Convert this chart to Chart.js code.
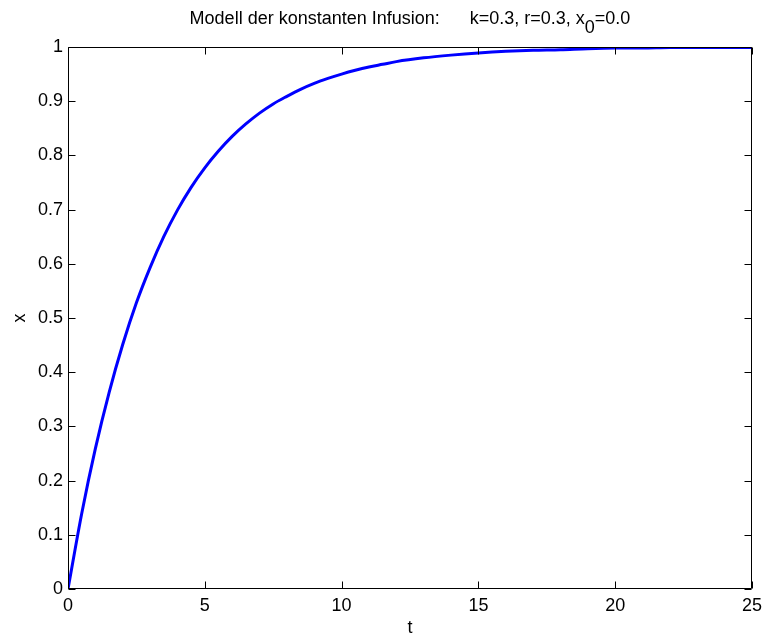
<!DOCTYPE html>
<html><head><meta charset="utf-8">
<script src="https://cdn.jsdelivr.net/npm/chart.js@4/dist/chart.umd.min.js"></script>
<style>html,body{margin:0;padding:0;background:#fff}#c{display:block}</style>
</head><body>
<canvas id="c" width="768" height="634"></canvas>
<script>
// Data
const tValues = [0, 0.5, 1, 1.5, 2, 2.5, 3, 3.5, 4, 4.5, 5, 5.5, 6, 6.5, 7, 7.5, 8, 8.5, 9, 9.5, 10, 10.5, 11, 11.5, 12, 13, 14, 15, 16, 17, 18, 19, 20, 21, 22, 23, 24, 25];
const xValues = [0, 0.139, 0.259, 0.362, 0.451, 0.528, 0.593, 0.650, 0.699, 0.741, 0.777, 0.808, 0.835, 0.858, 0.878, 0.895, 0.909, 0.922, 0.933, 0.942, 0.950, 0.957, 0.963, 0.968, 0.973, 0.980, 0.985, 0.989, 0.992, 0.994, 0.995, 0.997, 0.998, 0.998, 0.999, 0.999, 0.999, 0.999];
const xTickValues = [0, 5, 10, 15, 20, 25];
const yTickValues = [0, 0.1, 0.2, 0.3, 0.4, 0.5, 0.6, 0.7, 0.8, 0.9, 1];
const titleMain = 'Modell der konstanten Infusion:      k=0.3, r=0.3, x';
const titleSub = '0';
const titleEnd = '=0.0';
const xAxisLabel = 't';
const yAxisLabel = 'x';

const FONT = '"Liberation Sans", Arial, sans-serif';
const tickFont = {family: FONT, size: 18};

const boxPlugin = {
  id: 'box',
  afterDraw(chart) {
    const ctx = chart.ctx, a = chart.chartArea;
    const xs = chart.scales.x, ys = chart.scales.y;
    const L = Math.round(a.left) + 0.5, R = Math.round(a.right) - 0.5;
    const T = Math.round(a.top) + 0.5, B = Math.round(a.bottom) - 0.5;
    ctx.save();
    ctx.strokeStyle = '#000';
    ctx.lineWidth = 1;
    ctx.beginPath();
    ctx.rect(L, T, R - L, B - T);
    const tl = 7;
    xTickValues.forEach(v => {
      const px = Math.round(xs.getPixelForValue(v)) + 0.5;
      ctx.moveTo(px, B); ctx.lineTo(px, B - tl);
      ctx.moveTo(px, T); ctx.lineTo(px, T + tl);
    });
    yTickValues.forEach(v => {
      const py = Math.round(ys.getPixelForValue(v)) + 0.5;
      ctx.moveTo(L, py); ctx.lineTo(L + tl, py);
      ctx.moveTo(R, py); ctx.lineTo(R - tl, py);
    });
    ctx.stroke();
    // title with subscript
    const f = '18px ' + FONT;
    ctx.fillStyle = '#000';
    ctx.font = f;
    ctx.textBaseline = 'alphabetic';
    ctx.textAlign = 'left';
    const w1 = ctx.measureText(titleMain).width;
    const w2 = ctx.measureText(titleSub).width;
    const w3 = ctx.measureText(titleEnd).width;
    const total = w1 + w2 + w3;
    const cx = (a.left + a.right) / 2;
    const x0 = cx - total / 2;
    const base = 24;
    ctx.fillText(titleMain, x0, base);
    ctx.fillText(titleSub, x0 + w1, base + 9);
    ctx.fillText(titleEnd, x0 + w1 + w2, base);
    // axis labels
    ctx.textAlign = 'center';
    ctx.textBaseline = 'middle';
    ctx.fillText(xAxisLabel, cx, 628);
    ctx.save();
    ctx.translate(20, (a.top + a.bottom) / 2);
    ctx.rotate(-Math.PI / 2);
    ctx.fillText(yAxisLabel, 0, 0);
    ctx.restore();
    ctx.restore();
  }
};

new Chart(document.getElementById('c'), {
  type: 'line',
  data: {
    datasets: [{
      data: tValues.map((t, i) => ({x: t, y: xValues[i]})),
      borderColor: '#0000ff',
      borderWidth: 3,
      pointRadius: 0,
      fill: false,
      cubicInterpolationMode: 'monotone'
    }]
  },
  options: {
    responsive: false,
    devicePixelRatio: 1,
    animation: false,
    layout: {padding: {left: 0, right: 12, top: 47, bottom: 0}},
    plugins: {legend: {display: false}, tooltip: {enabled: false}, title: {display: false}},
    scales: {
      x: {
        type: 'linear', min: 0, max: 25,
        afterBuildTicks: s => { s.ticks = xTickValues.map(v => ({value: v})); },
        afterFit: s => { s.height = 45; },
        grid: {display: false, drawTicks: false},
        border: {display: false},
        ticks: {font: tickFont, color: '#000', padding: 6, maxRotation: 0, callback: v => String(v)}
      },
      y: {
        type: 'linear', min: 0, max: 1,
        afterBuildTicks: s => { s.ticks = yTickValues.map(v => ({value: v})); },
        afterFit: s => { s.width = 68; },
        grid: {display: false, drawTicks: false},
        border: {display: false},
        ticks: {font: tickFont, color: '#000', padding: 5, callback: v => String(Math.round(v * 10) / 10)}
      }
    }
  },
  plugins: [boxPlugin]
});
</script>
</body></html>
